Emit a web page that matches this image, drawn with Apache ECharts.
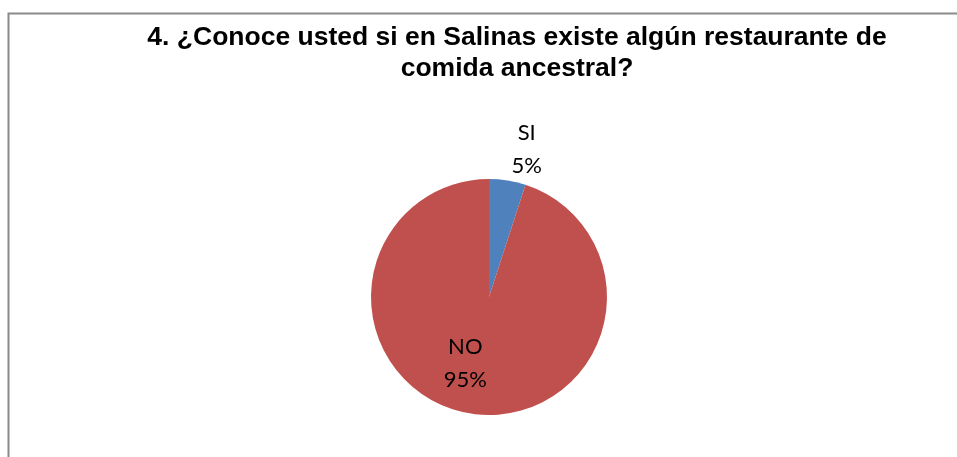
<!DOCTYPE html>
<html>
<head>
<meta charset="utf-8">
<script src="https://cdn.jsdelivr.net/npm/echarts@6/dist/echarts.min.js"></script>
<style>
  html, body { margin: 0; padding: 0; background: #fff; }
  #chart { width: 957px; height: 457px; }
</style>
</head>
<body>
<div id="chart"></div>
<script>
// Survey answers and their shares (percent)
const categories = ['SI', 'NO'];
const shares = [5, 95];
const sliceColors = ['#4F81BD', '#C0504D'];

const titleText = '4. ¿Conoce usted si en Salinas existe algún restaurante de\ncomida ancestral?';

const chart = echarts.init(document.getElementById('chart'), null, { renderer: 'canvas' });

// Label offsets from the slice's inside anchor point
const labelOffsets = [[28, -86], [-14, 5]];

const pieData = categories.map((name, i) => ({
  name: name,
  value: shares[i],
  itemStyle: { color: sliceColors[i] },
  label: { offset: labelOffsets[i] }
}));

chart.setOption({
  backgroundColor: '#ffffff',
  animation: false,
  graphic: [{
    type: 'rect',
    shape: { x: 8.5, y: 13.5, width: 1000, height: 500 },
    style: { fill: 'none', stroke: '#8a8a8a', lineWidth: 2 },
    silent: true
  }],
  title: {
    text: titleText,
    left: 512,
    top: 17,
    textAlign: 'center',
    textStyle: {
      fontFamily: 'Liberation Sans, Arial, sans-serif',
      fontWeight: 'bold',
      fontSize: 26.5,
      lineHeight: 31,
      color: '#000'
    }
  },
  series: [{
    type: 'pie',
    center: [489, 297],
    radius: [0, 118],
    startAngle: 90,
    clockwise: true,
    label: {
      show: true,
      position: 'inside',
      formatter: params => params.name + '\n' + Math.round(params.percent) + '%',
      fontFamily: 'Lato, Carlito, sans-serif',
      fontSize: 22,
      lineHeight: 33,
      color: '#000',
      align: 'center'
    },
    labelLine: { show: false },
    itemStyle: { borderWidth: 0 },
    emphasis: { disabled: true },
    data: pieData
  }]
});
</script>
</body>
</html>
